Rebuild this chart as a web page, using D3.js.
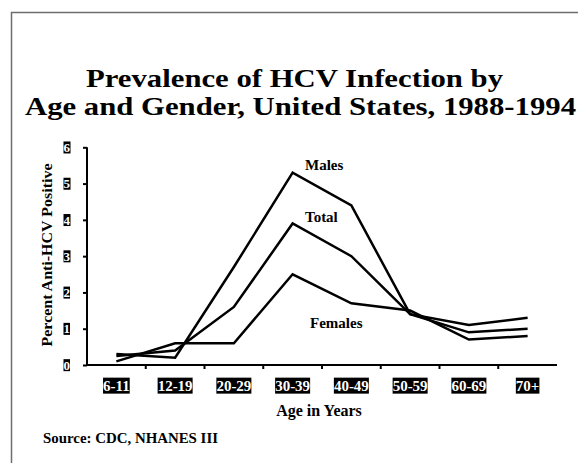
<!DOCTYPE html>
<html>
<head>
<meta charset="utf-8">
<script src="https://cdn.jsdelivr.net/npm/d3@7"></script>
<style>
  body { margin: 0; background: #fff; }
</style>
</head>
<body>
<svg id="chart" width="578" height="463"></svg>
<script>
// data
var ages = ['6-11', '12-19', '20-29', '30-39', '40-49', '50-59', '60-69', '70+'];
var males   = [0.3, 0.2, 2.7, 5.3, 4.4, 1.4, 1.1, 1.3];
var total   = [0.25, 0.4, 1.6, 3.9, 3.0, 1.4, 0.9, 1.0];
var females = [0.1, 0.6, 0.6, 2.5, 1.7, 1.5, 0.7, 0.8];
var yTicks = [0, 1, 2, 3, 4, 5, 6];

var seriesNames = ['Males', 'Total', 'Females'];
var seriesVals = [males, total, females];

var FONT = '"Liberation Serif", Tinos, "DejaVu Serif", serif';

var svg = d3.select('#chart')
  .attr('font-family', FONT)
  .attr('font-weight', 'bold');

// frame (left and top edges only show)
svg.append('path')
  .attr('d', 'M11.5,463 V12.5 H578')
  .attr('fill', 'none')
  .attr('stroke', '#6e6e6e')
  .attr('stroke-width', 1.5);

// title
var title = ['Prevalence of HCV Infection by', 'Age and Gender, United States, 1988-1994'];
var titleW = [417, 551];
svg.selectAll('.title').data(title).enter().append('text')
  .attr('class', 'title')
  .attr('x', (d, i) => i ? 300.5 : 294.5)
  .attr('y', (d, i) => 87 + i * 28)
  .attr('text-anchor', 'middle')
  .attr('textLength', (d, i) => titleW[i])
  .attr('lengthAdjust', 'spacingAndGlyphs')
  .style('font-size', '25px')
  .text(d => d);

var x = d3.scaleBand().domain(ages).range([87, 557]);
var y = d3.scaleLinear().domain([0, 6]).range([365, 147.3]);

// y axis
var gy = svg.append('g').attr('transform', 'translate(87,0)')
  .call(d3.axisLeft(y).tickValues(yTicks).tickSize(4).tickPadding(13).tickFormat(d3.format('d')))
  .attr('font-family', FONT).attr('font-size', null);
gy.select('.domain').attr('stroke', '#000').attr('stroke-width', 2).attr('d', 'M0,' + y(6) + 'V' + y(0));
gy.selectAll('.tick line').attr('stroke', '#000').attr('stroke-width', 2);
gy.selectAll('.tick text').style('font-size', '13px').attr('fill', '#fff');

// x axis
var gx = svg.append('g').attr('transform', 'translate(0,365)')
  .call(d3.axisBottom(x).tickSize(0).tickPadding(15))
  .attr('font-family', FONT).attr('font-size', null);
gx.select('.domain').attr('stroke', '#000').attr('stroke-width', 2).attr('d', 'M87,0H557');
gx.selectAll('.tick text').style('font-size', '15px').attr('fill', '#fff');
gx.selectAll('.bound').data(ages.slice(1)).enter().append('line')
  .attr('class', 'bound')
  .attr('x1', d => x(d)).attr('x2', d => x(d))
  .attr('y1', 0).attr('y2', 4)
  .attr('stroke', '#000').attr('stroke-width', 2);

// black boxes behind the tick labels
function boxes(g, shrink) {
  g.selectAll('.tick').each(function () {
    var t = d3.select(this).select('text');
    var b = t.node().getBBox();
    d3.select(this).insert('rect', 'text')
      .attr('x', b.x).attr('y', b.y + shrink)
      .attr('width', b.width).attr('height', b.height - 2 * shrink)
      .attr('fill', '#000');
  });
}
boxes(gy, 1.5);
boxes(gx, 0);

// lines
var line = d3.line()
  .x((d, i) => x(ages[i]) + x.bandwidth() / 2)
  .y(d => y(d));

svg.selectAll('.series').data(seriesVals).enter().append('path')
  .attr('class', 'series')
  .attr('d', d => line(d))
  .attr('fill', 'none')
  .attr('stroke', '#000')
  .attr('stroke-width', 2.5)
  .attr('stroke-linejoin', 'miter');

// series labels
var labelPos = [[305, 170], [305, 222], [310, 328]];
svg.selectAll('.slabel').data(seriesNames).enter().append('text')
  .attr('class', 'slabel')
  .attr('x', (d, i) => labelPos[i][0])
  .attr('y', (d, i) => labelPos[i][1])
  .style('font-size', '15px')
  .text(d => d);

// axis titles
svg.append('text')
  .attr('transform', 'translate(52,255) rotate(-90)')
  .attr('text-anchor', 'middle')
  .attr('textLength', 183)
  .attr('lengthAdjust', 'spacingAndGlyphs')
  .style('font-size', '14px')
  .text('Percent Anti-HCV Positive');

svg.append('text')
  .attr('x', 319).attr('y', 416)
  .attr('text-anchor', 'middle')
  .style('font-size', '16px')
  .text('Age in Years');

svg.append('text')
  .attr('x', 43).attr('y', 443)
  .attr('textLength', 175)
  .attr('lengthAdjust', 'spacingAndGlyphs')
  .style('font-size', '14.5px')
  .text('Source: CDC, NHANES III');
</script>
</body>
</html>
